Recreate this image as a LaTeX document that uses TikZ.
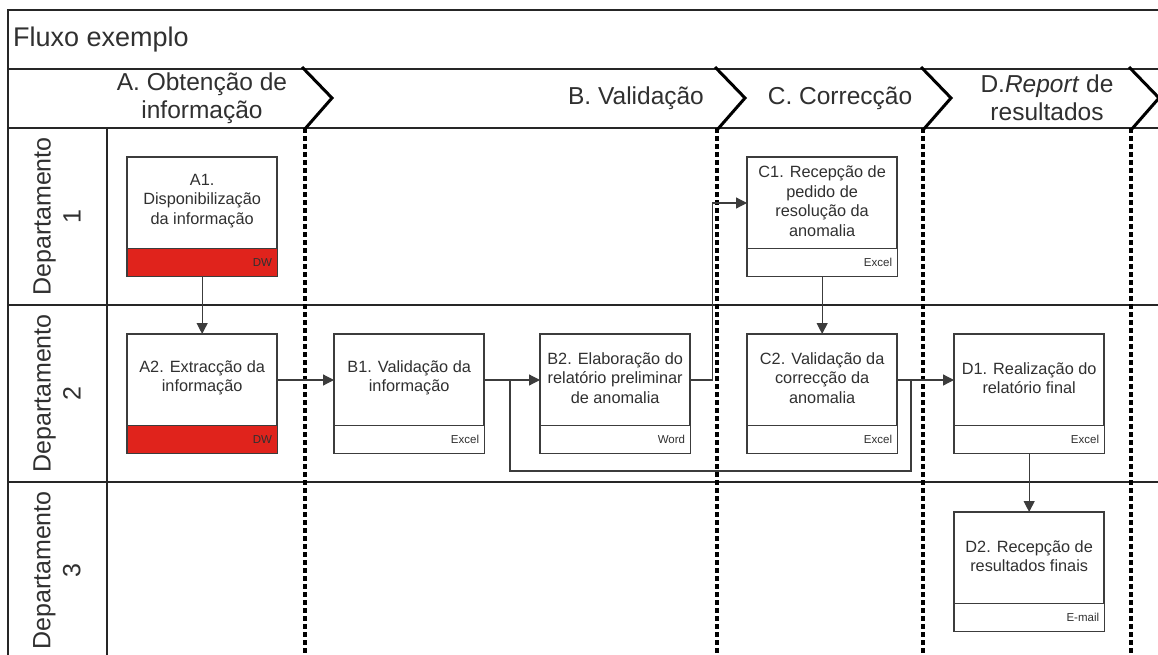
\documentclass[tikz,border=0pt]{standalone}
\usepackage{fontspec}
\setmainfont{Liberation Sans}
\usetikzlibrary{arrows.meta,calc}
\definecolor{boxc}{HTML}{3C3C3C}
\definecolor{txtc}{HTML}{303030}
\definecolor{dwred}{HTML}{E0231C}
\tikzset{
  frameline/.style={draw=black!85, line width=1.5pt},
  chev/.style={draw=black, line width=3pt, line join=miter},
  dotline/.style={draw=black, line width=4pt, dash pattern=on 5pt off 3pt},
  box/.style={draw=boxc, line width=1.3pt, fill=white, minimum width=149pt, minimum height=118pt, inner sep=0pt, anchor=north west},
  boxtext/.style={text=txtc, font=\fontsize{16.3}{19.6}\selectfont, align=center},
  tag/.style={text=txtc, font=\fontsize{11.5}{13}\selectfont, anchor=east, inner sep=0pt},
  conn/.style={draw=boxc, line width=1.2pt},
  arr/.style={conn, -{Triangle[length=11pt,width=11pt]}},
  hdr/.style={text=txtc, font=\fontsize{24.5}{28}\selectfont, align=center, inner sep=0pt},
  dept/.style={text=txtc, font=\fontsize{25}{30}\selectfont, align=center, rotate=90, inner sep=0pt},
  titletext/.style={text=txtc, font=\fontsize{27}{30}\selectfont, inner sep=0pt}
}
\newcommand\procbox[6]{%
  \node[box] (#1) at (#2,#3) {};
  \fill[#6] ([yshift=28pt]#1.south west) rectangle (#1.south east);
  \draw[boxc, line width=1.3pt] ([yshift=28pt]#1.south west) -- ([yshift=28pt]#1.south east);
  \draw[boxc, line width=1.3pt] (#1.north west) rectangle (#1.south east);
  \node[boxtext] (#1t) at ([yshift=-44pt]#1.north) {#4};
  \node[tag] (#1g) at ([xshift=-5pt,yshift=14pt]#1.south east) {#5};
}
\begin{document}
\begin{tikzpicture}[x=1pt,y=-1pt]
\useasboundingbox (0,0) rectangle (1158,655);
\fill[white] (0,0) rectangle (1158,655);
\clip (0,0) rectangle (1158,655);
% frame
\draw[frameline] (1160,10) -- (8,10) -- (8,660);
\draw[frameline] (8,69) -- (1160,69);
\draw[frameline] (8,128) -- (1160,128);
\draw[frameline] (8,305) -- (1160,305);
\draw[frameline] (8,482) -- (1160,482);
\draw[frameline] (107,128) -- (107,660);
% title
\node[titletext, anchor=base west] (title) at (13,47) {Fluxo exemplo};
% dotted phase separators
\foreach \x in {305,717,923,1131} {
  \draw[dotline] (\x,128) -- (\x,660);
}
% chevrons
\foreach \x in {302,715,921,1129} {
  \draw[chev] (\x,67) -- (\x+30,98) -- (\x+2,130);
}
% header texts
\node[hdr] (hA) at (202,98) {A. Obtenção de\\informação};
\node[hdr] (hB) at (636,98) {B. Validação};
\node[hdr] (hC) at (840,98) {C. Correcção};
\node[hdr] (hD) at (1047,98) {D.\textit{Report} de\\resultados};
% lane labels
\node[dept] (d1) at (57,216.5) {Departamento\\1};
\node[dept] (d2) at (57,393.5) {Departamento\\2};
\node[dept] (d3) at (57,570.5) {Departamento\\3};
% boxes
\procbox{A1}{127}{157}{A1.\\Disponibilização\\da informação}{DW}{dwred}
\procbox{A2}{127}{334}{A2. Extracção da\\informação}{DW}{dwred}
\procbox{B1}{334}{334}{B1. Validação da\\informação}{Excel}{white}
\procbox{B2}{540}{334}{B2. Elaboração do\\relatório preliminar\\de anomalia}{Word}{white}
\procbox{C1}{747}{157}{C1. Recepção de\\pedido de\\resolução da\\anomalia}{Excel}{white}
\procbox{C2}{747}{334}{C2. Validação da\\correcção da\\anomalia}{Excel}{white}
\procbox{D1}{954}{334}{D1. Realização do\\relatório final}{Excel}{white}
\procbox{D2}{954}{512}{D2. Recepção de\\resultados finais}{E-mail}{white}
% connectors
\coordinate (j1) at (510,380);
\coordinate (j2) at (911,380);
\coordinate (bend) at (911,471);
\draw[arr] (A1.south) -- (A2.north);
\draw[arr] ([yshift=-46pt]A2.north east) -- ([yshift=-46pt]B1.north west);
\draw[arr] ([yshift=-46pt]B1.north east) -- ([yshift=-46pt]B2.north west);
\draw[conn] (j1) |- (bend) -- (j2);
\draw[arr] ([yshift=-46pt]B2.north east) -- ++(22,0) |- ([yshift=-46pt]C1.north west);
\draw[arr] (C1.south) -- (C2.north);
\draw[arr] ([yshift=-46pt]C2.north east) -- ([yshift=-46pt]D1.north west);
\draw[arr] (D1.south) -- (D2.north);
\end{tikzpicture}
\end{document}
